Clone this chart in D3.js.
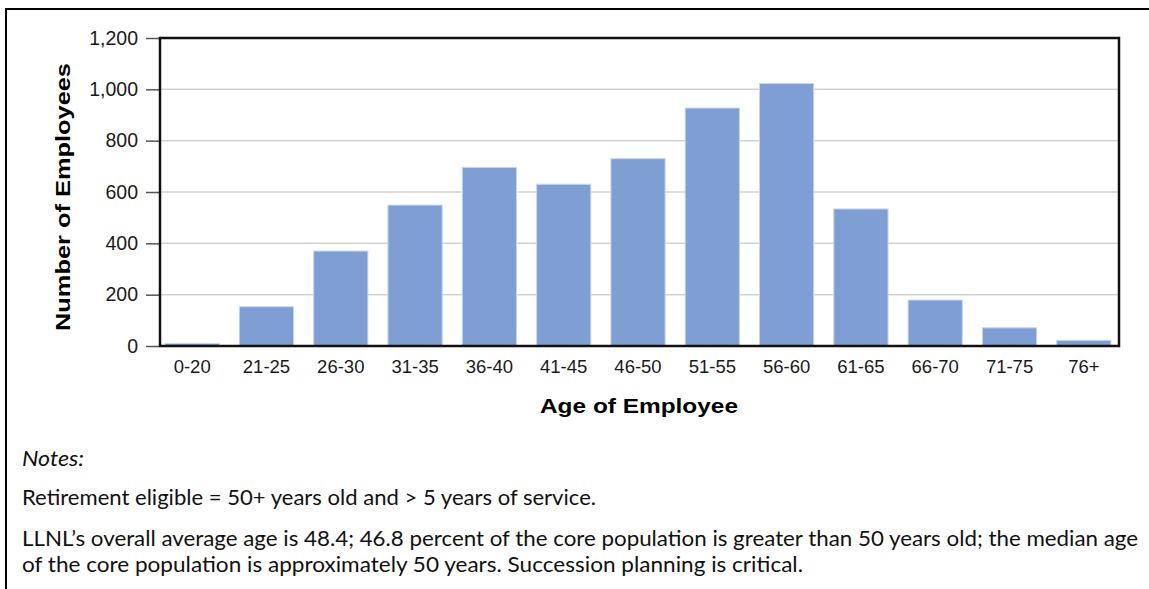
<!DOCTYPE html>
<html>
<head>
<meta charset="utf-8">
<script src="https://cdn.jsdelivr.net/npm/d3@7"></script>
<style>
    html, body { margin: 0; padding: 0; background: white; }
    svg { display: block; }
</style>
</head>
<body>
<div id="viz_canvas"></div>
<script>
"use strict";

// chart data
var ageGroups = ["0-20", "21-25", "26-30", "31-35", "36-40", "41-45", "46-50",
    "51-55", "56-60", "61-65", "66-70", "71-75", "76+"];
var employees = [10, 153, 370, 549, 696, 630, 730, 927, 1023, 534, 179, 71, 22];
var yTicks = [0, 200, 400, 600, 800, 1000, 1200];

var xTitle = "Age of Employee";
var yTitle = "Number of Employees";
var notesTitle = "Notes:";
var noteLines = [
    "Retirement eligible = 50+ years old and > 5 years of service.",
    "LLNL\u2019s overall average age is 48.4; 46.8 percent of the core population is greater than 50 years old; the median age",
    "of the core population is approximately 50 years.  Succession planning is critical."
];

var width = 1149, height = 589;
var plot = { left: 160, top: 38, right: 1119, bottom: 346 };
var chartFont = "'Liberation Sans', Arial, Helvetica, sans-serif";
var noteFont = "Lato, 'Noto Sans', sans-serif";

var svg = d3.select("#viz_canvas").append("svg")
    .attr("width", width)
    .attr("height", height);

// outer box (open on right and bottom, cut by the page)
svg.append("path")
    .attr("d", "M6," + (height + 2) + "V9H" + (width + 2))
    .attr("fill", "none")
    .attr("stroke", "#000")
    .attr("stroke-width", 2);

var x = d3.scaleBand()
    .domain(ageGroups)
    .range([155, 1121])
    .paddingInner(0.27)
    .paddingOuter(0.135);

var y = d3.scaleLinear()
    .domain([0, 1200])
    .range([plot.bottom, plot.top]);

// gridlines
svg.append("g")
    .selectAll("line")
    .data(yTicks.filter(d => d > 0 && d < 1200))
    .enter().append("line")
    .attr("x1", plot.left)
    .attr("x2", plot.right)
    .attr("y1", d => y(d))
    .attr("y2", d => y(d))
    .attr("stroke", "#d3d3d3")
    .attr("stroke-width", 1.5);

// bars
svg.append("g")
    .selectAll("rect")
    .data(employees)
    .enter().append("rect")
    .attr("x", (d, i) => x(ageGroups[i]))
    .attr("y", d => y(d))
    .attr("width", x.bandwidth())
    .attr("height", d => y(0) - y(d))
    .attr("fill", "#7f9fd4")
    .attr("stroke", "#c9d6ee")
    .attr("stroke-width", 1);

// y axis
var yAxis = svg.append("g")
    .attr("transform", "translate(" + plot.left + ",0)")
    .call(d3.axisLeft(y)
        .tickValues(yTicks)
        .tickSize(14)
        .tickPadding(8)
        .tickFormat(d3.format(",")));
yAxis.select(".domain").remove();
yAxis.selectAll(".tick line").attr("stroke", "#555").attr("stroke-width", 1.5);
yAxis.selectAll("text")
    .attr("fill", "#1a1a1a")
    .style("font-family", chartFont)
    .style("font-size", "19.5px");

// x axis
var xAxis = svg.append("g")
    .attr("transform", "translate(0," + plot.bottom + ")")
    .call(d3.axisBottom(x).tickSize(0).tickPadding(14));
xAxis.select(".domain").remove();
xAxis.selectAll("text")
    .attr("fill", "#1a1a1a")
    .style("font-family", chartFont)
    .style("font-size", "18.5px");

// plot frame
svg.append("rect")
    .attr("x", plot.left)
    .attr("y", plot.top)
    .attr("width", plot.right - plot.left)
    .attr("height", plot.bottom - plot.top)
    .attr("fill", "none")
    .attr("stroke", "#111")
    .attr("stroke-width", 2.5);

// axis titles
svg.append("text")
    .attr("x", 639)
    .attr("y", 413)
    .attr("text-anchor", "middle")
    .attr("textLength", 198)
    .attr("lengthAdjust", "spacingAndGlyphs")
    .style("font-family", chartFont)
    .style("font-weight", "bold")
    .style("font-size", "21px")
    .text(xTitle);

svg.append("text")
    .attr("transform", "translate(70,197) rotate(-90)")
    .attr("text-anchor", "middle")
    .attr("textLength", 268)
    .attr("lengthAdjust", "spacingAndGlyphs")
    .style("font-family", chartFont)
    .style("font-weight", "bold")
    .style("font-size", "21px")
    .text(yTitle);

// notes
svg.append("text")
    .attr("x", 22)
    .attr("y", 466)
    .attr("textLength", 62)
    .attr("lengthAdjust", "spacingAndGlyphs")
    .style("font-family", noteFont)
    .style("font-style", "italic")
    .style("font-size", "21px")
    .attr("fill", "#111")
    .text(notesTitle);

var noteY = [505, 546, 572];
var noteW = [574, 1116, 781];
svg.append("g")
    .selectAll("text")
    .data(noteLines)
    .enter().append("text")
    .attr("x", 22)
    .attr("y", (d, i) => noteY[i])
    .attr("textLength", (d, i) => noteW[i])
    .attr("lengthAdjust", "spacingAndGlyphs")
    .style("font-family", noteFont)
    .style("font-size", "20.5px")
    .attr("fill", "#111")
    .text(d => d);
</script>
</body>
</html>
